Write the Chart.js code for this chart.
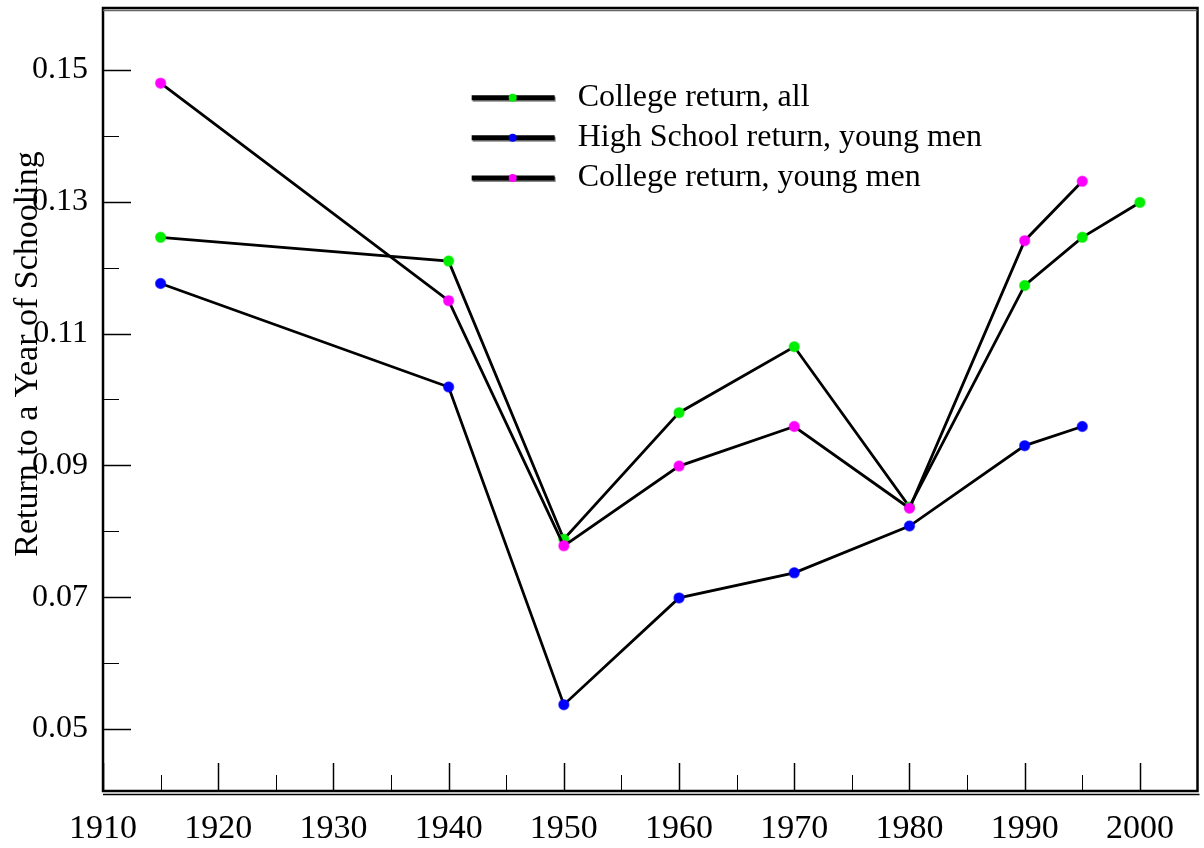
<!DOCTYPE html>
<html>
<head>
<meta charset="utf-8">
<script src="https://cdn.jsdelivr.net/npm/chart.js@4.4.1/dist/chart.umd.min.js"></script>
<style>
  html, body { margin: 0; padding: 0; background: #fff; }
  #wrap { width: 1204px; height: 848px; }
</style>
</head>
<body>
<div id="wrap"><canvas id="returnsChart" width="1204" height="848"></canvas></div>
<script>
// Returns to schooling, by year
const years = [1915, 1940, 1950, 1960, 1970, 1980, 1990, 1995, 2000];
const collegeAll = [0.1246, 0.1210, 0.0788, 0.0980, 0.1080, 0.0837, 0.1173, 0.1246, 0.1299];
const highSchoolYoung = [0.1176, 0.1019, 0.0537, 0.0699, 0.0737, 0.0808, 0.0930, 0.0959, null];
const collegeYoung = [0.1480, 0.1150, 0.0778, 0.0899, 0.0959, 0.0835, 0.1241, 0.1331, null];

const seriesNames = ['College return, all', 'High School return, young men', 'College return, young men'];
const seriesColors = ['#00ee00', '#0000ff', '#ff00ff'];

const xTickLabels = [1910, 1920, 1930, 1940, 1950, 1960, 1970, 1980, 1990, 2000];
const xMinorTicks = [1915, 1925, 1935, 1945, 1955, 1965, 1975, 1985, 1995];
const yTickLabels = [0.05, 0.07, 0.09, 0.11, 0.13, 0.15];
const yMinorTicks = [0.06, 0.08, 0.10, 0.12, 0.14];

const yTitle = 'Return to a Year of Schooling';
const FONT = '"Liberation Serif", "Times New Roman", serif';

function toPoints(values) {
  return years.map((yr, i) => ({ x: yr, y: values[i] })).filter(p => p.y !== null);
}

function makeSet(idx, values, order) {
  return {
    label: seriesNames[idx],
    data: toPoints(values),
    borderColor: '#000',
    borderWidth: 2.8,
    pointRadius: 5,
    pointBackgroundColor: seriesColors[idx],
    pointBorderColor: seriesColors[idx] + '99',
    pointBorderWidth: 1.5,
    tension: 0,
    order: order
  };
}

// inward ticks, frame, legend and axis title
const decorations = {
  id: 'decorations',
  afterDraw(chart) {
    const ctx = chart.ctx;
    const area = chart.chartArea;
    const xs = chart.scales.x, ys = chart.scales.y;
    ctx.save();
    ctx.strokeStyle = '#000';

    ctx.lineWidth = 1.5;
    yTickLabels.forEach(v => {
      const py = Math.round(ys.getPixelForValue(v)) + 0.5;
      ctx.beginPath(); ctx.moveTo(area.left, py); ctx.lineTo(area.left + 28, py); ctx.stroke();
    });
    ctx.lineWidth = 1;
    yMinorTicks.forEach(v => {
      const py = Math.round(ys.getPixelForValue(v)) + 0.5;
      ctx.beginPath(); ctx.moveTo(area.left, py); ctx.lineTo(area.left + 16, py); ctx.stroke();
    });
    ctx.lineWidth = 1.5;
    xTickLabels.forEach(v => {
      const px = Math.round(xs.getPixelForValue(v)) + 0.5;
      ctx.beginPath(); ctx.moveTo(px, area.bottom); ctx.lineTo(px, area.bottom - 28); ctx.stroke();
    });
    ctx.lineWidth = 1;
    xMinorTicks.forEach(v => {
      const px = Math.round(xs.getPixelForValue(v)) + 0.5;
      ctx.beginPath(); ctx.moveTo(px, area.bottom); ctx.lineTo(px, area.bottom - 16); ctx.stroke();
    });

    // frame
    ctx.lineWidth = 2.5;
    ctx.strokeRect(area.left, area.top, area.right - area.left, area.bottom - area.top);
    ctx.strokeStyle = '#666';
    ctx.lineWidth = 1.5;
    ctx.beginPath(); ctx.moveTo(area.left, area.top + 2.5); ctx.lineTo(area.right, area.top + 2.5); ctx.stroke();
    ctx.strokeStyle = '#000';
    ctx.beginPath(); ctx.moveTo(area.left, area.bottom + 3.5); ctx.lineTo(area.right + 2, area.bottom + 3.5); ctx.stroke();

    // legend
    const lx = xs.getPixelForValue(1942.0);
    seriesNames.forEach((name, i) => {
      const ly = ys.getPixelForValue(0.1458 - i * 0.0061);
      ctx.strokeStyle = '#888';
      ctx.lineWidth = 5;
      ctx.beginPath(); ctx.moveTo(lx + 1, ly + 1.5); ctx.lineTo(lx + 84, ly + 1.5); ctx.stroke();
      ctx.strokeStyle = '#000';
      ctx.beginPath(); ctx.moveTo(lx, ly); ctx.lineTo(lx + 83, ly); ctx.stroke();
      ctx.fillStyle = seriesColors[i];
      ctx.beginPath(); ctx.arc(lx + 41, ly, 4, 0, Math.PI * 2); ctx.fill();
      ctx.fillStyle = '#000';
      ctx.font = '32px ' + FONT;
      ctx.textAlign = 'left';
      ctx.textBaseline = 'middle';
      ctx.fillText(name, lx + 106, ly);
    });

    // y axis title
    ctx.translate(28, 354);
    ctx.rotate(-Math.PI / 2);
    ctx.font = '34px ' + FONT;
    ctx.textAlign = 'center';
    ctx.textBaseline = 'middle';
    ctx.fillStyle = '#000';
    ctx.fillText(yTitle, 0, 0);
    ctx.restore();
  }
};

const ctx = document.getElementById('returnsChart').getContext('2d');
const returnsChart = new Chart(ctx, {
  type: 'line',
  data: {
    datasets: [
      makeSet(0, collegeAll, 2),
      makeSet(1, highSchoolYoung, 1),
      makeSet(2, collegeYoung, 0)
    ]
  },
  options: {
    responsive: false,
    animation: false,
    layout: { padding: { top: 8, right: 0, left: 0, bottom: 0 } },
    plugins: { legend: { display: false }, tooltip: { enabled: false } },
    scales: {
      x: {
        type: 'linear',
        min: 1910,
        max: 2005,
        grid: { display: false, drawTicks: false },
        border: { display: false },
        afterBuildTicks: s => { s.ticks = xTickLabels.map(v => ({ value: v })); },
        afterFit: s => { s.height = 57; s.paddingLeft = 0; s.paddingRight = 0; },
        ticks: {
          padding: 18,
          maxRotation: 0,
          autoSkip: false,
          color: '#000',
          font: { family: FONT, size: 34 },
          callback: v => String(v)
        }
      },
      y: {
        min: 0.0406,
        max: 0.1594,
        grid: { display: false, drawTicks: false },
        border: { display: false },
        afterBuildTicks: s => { s.ticks = yTickLabels.map(v => ({ value: v })); },
        afterFit: s => { s.width = 103; s.paddingTop = 0; s.paddingBottom = 0; },
        ticks: {
          padding: 15,
          autoSkip: false,
          color: '#000',
          font: { family: FONT, size: 32 },
          callback: v => v.toFixed(2)
        }
      }
    }
  },
  plugins: [decorations]
});
</script>
</body>
</html>
